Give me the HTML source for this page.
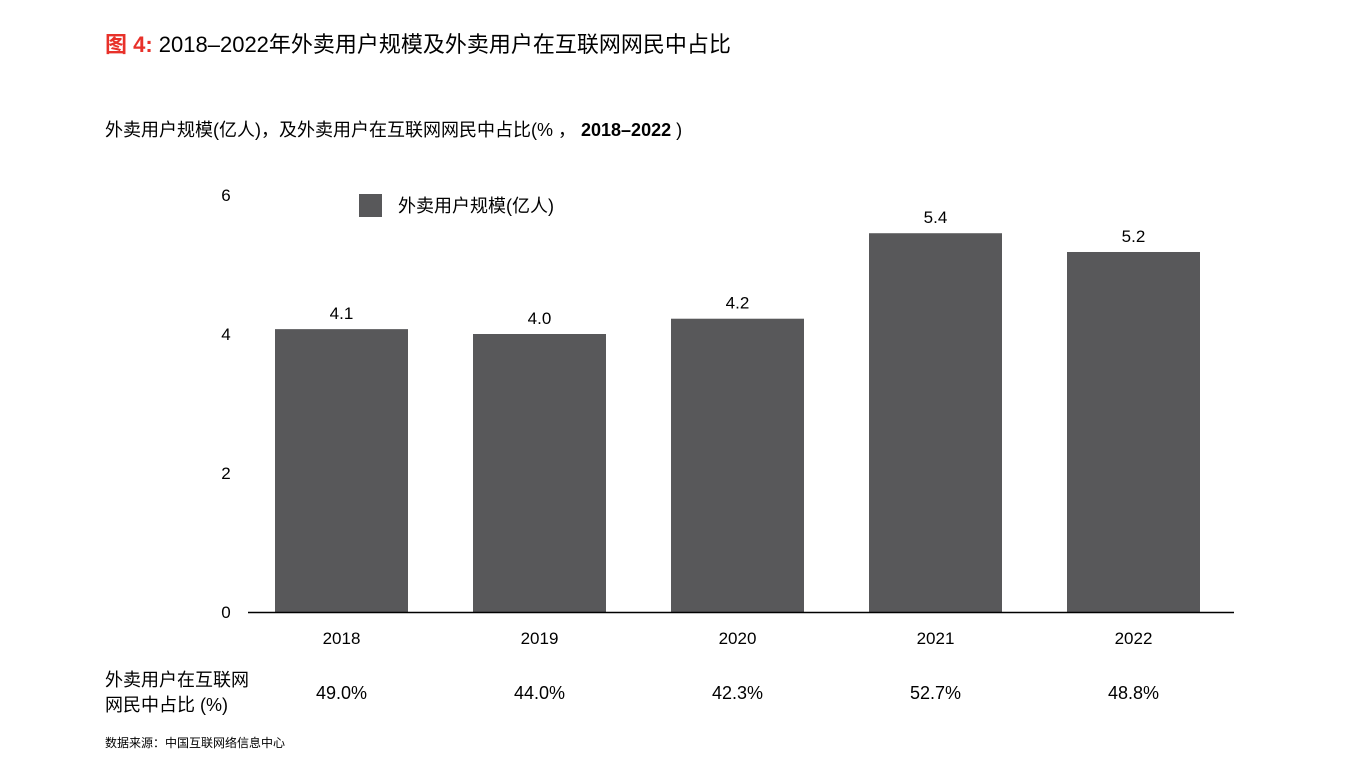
<!DOCTYPE html>
<html><head><meta charset="utf-8">
<style>
body{margin:0;background:#fff;width:1356px;height:758px;overflow:hidden;font-family:"Liberation Sans","Noto Sans CJK SC",sans-serif;}
</style></head>
<body>
<svg width="1356" height="758" xmlns="http://www.w3.org/2000/svg" style="font-family:'Liberation Sans','Noto Sans CJK SC',sans-serif">
<text x="105" y="52" font-size="22" fill="#000"><tspan fill="#e8312a" font-weight="bold">图 4:</tspan> 2018–2022年外卖用户规模及外卖用户在互联网网民中占比</text>
<text x="105" y="136" font-size="18" fill="#000">外卖用户规模(亿人)，及外卖用户在互联网网民中占比(% ， <tspan font-weight="bold">2018–2022</tspan> )</text>
<rect x="359" y="194" width="23" height="23" fill="#58585a"/>
<text x="398" y="212" font-size="18" fill="#000">外卖用户规模(亿人)</text>
<g id="yaxis"></g>
<g id="bars"></g>
<line x1="248" y1="612.5" x2="1234" y2="612.5" stroke="#000" stroke-width="1.5"/>
<text x="105" y="686" font-size="18" fill="#000">外卖用户在互联网</text>
<text x="105" y="711" font-size="18" fill="#000">网民中占比 (%)</text>
<g id="shares"></g>
<text x="105" y="747" font-size="12" fill="#000">数据来源：中国互联网络信息中心</text>
</svg>
<script>
const categories=["2018","2019","2020","2021","2022"];
const barValues=[4.07,4.0,4.22,5.45,5.18];
const barLabels=["4.1","4.0","4.2","5.4","5.2"];
const shareLabels=["49.0%","44.0%","42.3%","52.7%","48.8%"];
const yTicks=[0,2,4,6];
const NS="http://www.w3.org/2000/svg";
const y=v=>612-v*69.5;
const x=i=>341.5+i*198;
const bw=133;
function mk(tag,attrs,txt){const e=document.createElementNS(NS,tag);for(const k in attrs)e.setAttribute(k,attrs[k]);if(txt!==undefined)e.textContent=txt;return e;}
const ya=document.getElementById('yaxis');
yTicks.forEach(t=>{const e=mk('text',{x:226,y:y(t)+6,'text-anchor':'middle','font-size':17},String(t));


ya.appendChild(e);});
const bg=document.getElementById('bars');
categories.forEach((c,i)=>{
const r=mk('rect',{x:x(i)-bw/2,y:y(barValues[i]),width:bw,height:612-y(barValues[i]),fill:'#58585a'});


bg.appendChild(r);
const l=mk('text',{x:x(i),y:y(barValues[i])-10,'text-anchor':'middle','font-size':17},barLabels[i]);


bg.appendChild(l);
const xl=mk('text',{x:x(i),y:644,'text-anchor':'middle','font-size':17},c);


bg.appendChild(xl);
});
const sg=document.getElementById('shares');
shareLabels.forEach((s,i)=>{const e=mk('text',{x:x(i),y:699,'text-anchor':'middle','font-size':18},s);


sg.appendChild(e);});
</script>
</body></html>
